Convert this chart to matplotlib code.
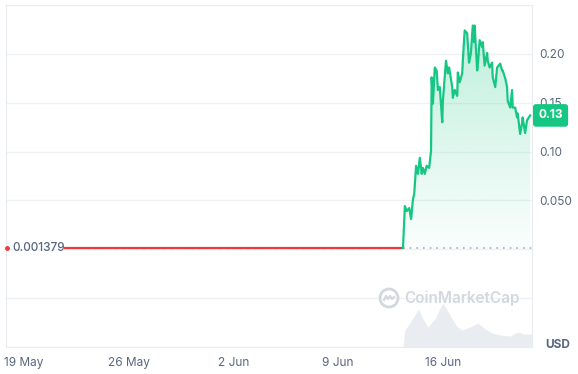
import numpy as np
import pandas as pd
import matplotlib
matplotlib.use("Agg")
import matplotlib.pyplot as plt
import matplotlib.dates as mdates
from matplotlib.transforms import blended_transform_factory
from matplotlib.patches import Polygon, Ellipse
from matplotlib.lines import Line2D

plt.rcParams['font.family'] = ['Inter', 'DejaVu Sans']

# flat pre-launch price
flat_times = ["2024-05-21 18:00", "2024-06-13 08:00"]
flat_price = [0.001379, 0.001379]
ref_price = 0.001379

# trading price after launch
times = [
    "2024-06-13 08:00", "2024-06-13 11:00", "2024-06-13 14:00", "2024-06-13 18:00",
    "2024-06-13 21:00", "2024-06-14 00:00", "2024-06-14 02:00", "2024-06-14 05:00",
    "2024-06-14 08:00", "2024-06-14 11:00", "2024-06-14 14:00", "2024-06-14 16:00",
    "2024-06-14 19:00", "2024-06-14 22:00", "2024-06-15 02:00", "2024-06-15 05:00",
    "2024-06-15 06:00", "2024-06-15 08:00", "2024-06-15 11:00", "2024-06-15 14:00",
    "2024-06-15 16:00", "2024-06-15 19:00", "2024-06-15 23:00", "2024-06-16 00:00",
    "2024-06-16 05:00", "2024-06-16 08:00", "2024-06-16 10:00", "2024-06-16 15:00",
    "2024-06-16 16:00", "2024-06-16 19:00", "2024-06-16 23:00", "2024-06-17 00:00",
    "2024-06-17 03:00", "2024-06-17 07:00", "2024-06-17 08:00", "2024-06-17 11:00",
    "2024-06-17 15:00", "2024-06-17 18:00", "2024-06-17 21:00", "2024-06-18 00:00",
    "2024-06-18 02:00", "2024-06-18 03:00", "2024-06-18 07:00", "2024-06-18 08:00",
    "2024-06-18 11:00", "2024-06-18 15:00", "2024-06-18 16:00", "2024-06-18 19:00",
    "2024-06-18 23:00", "2024-06-19 00:00", "2024-06-19 03:00", "2024-06-19 07:00",
    "2024-06-19 08:00", "2024-06-19 12:00", "2024-06-19 15:00", "2024-06-19 20:00",
    "2024-06-19 23:00", "2024-06-20 00:00", "2024-06-20 04:00", "2024-06-20 07:00",
    "2024-06-20 08:00", "2024-06-20 12:00", "2024-06-20 15:00", "2024-06-20 16:00",
    "2024-06-20 20:00", "2024-06-20 23:00", "2024-06-21 00:00", "2024-06-21 04:00",
    "2024-06-21 07:00", "2024-06-21 08:00", "2024-06-21 12:00", "2024-06-21 15:00",
    "2024-06-21 20:00",
]
price = [
    0.0014, 0.0442, 0.0391, 0.0422, 0.0309, 0.0514, 0.0566, 0.0854,
    0.0772, 0.0936, 0.0772, 0.0833, 0.0772, 0.0854, 0.0833, 0.1008,
    0.176, 0.149, 0.186, 0.183, 0.163, 0.166, 0.130, 0.152,
    0.193, 0.180, 0.186, 0.166, 0.155, 0.163, 0.157, 0.181,
    0.171, 0.180, 0.193, 0.224, 0.221, 0.191, 0.201, 0.229,
    0.212, 0.229, 0.183, 0.188, 0.214, 0.207, 0.212, 0.188,
    0.201, 0.193, 0.186, 0.191, 0.176, 0.166, 0.186, 0.190,
    0.183, 0.183, 0.175, 0.166, 0.152, 0.145, 0.163, 0.145,
    0.145, 0.135, 0.139, 0.118, 0.129, 0.135, 0.119, 0.132,
    0.137,
]

# volume (millions USD)
vol_times = [
    "2024-06-13 08:00", "2024-06-13 11:00", "2024-06-13 19:00", "2024-06-14 03:00",
    "2024-06-14 09:00", "2024-06-14 16:00", "2024-06-15 00:00", "2024-06-15 11:00",
    "2024-06-15 19:00", "2024-06-16 00:00", "2024-06-16 06:00", "2024-06-16 15:00",
    "2024-06-16 23:00", "2024-06-17 07:00", "2024-06-17 20:00", "2024-06-18 08:00",
    "2024-06-18 20:00", "2024-06-19 07:00", "2024-06-19 20:00", "2024-06-20 12:00",
    "2024-06-21 00:00", "2024-06-21 10:00", "2024-06-21 22:00",
]
volume = [0.0, 1.7, 2.4, 3.2, 3.8, 2.8, 2.0, 2.8, 3.8, 4.4, 3.8, 2.8,
          2.0, 1.7, 2.0, 2.4, 1.8, 1.4, 1.2, 1.1, 1.5, 1.3, 1.3]

tick_dates = ["2024-05-19", "2024-05-26", "2024-06-02", "2024-06-09", "2024-06-16"]
price_ticks = [0.05, 0.10, 0.15, 0.20]
price_tick_labels = ["0.050", "0.10", "0.15", "0.20"]

GREEN = "#16c784"
RED = "#ea3943"
GREY = "#58667e"
GRID = "#eff2f5"
WM = "#d3d8de"

t = mdates.date2num(pd.to_datetime(times))
ft = mdates.date2num(pd.to_datetime(flat_times))
vt = mdates.date2num(pd.to_datetime(vol_times))
xmin = mdates.date2num(pd.Timestamp("2024-05-17 19:00"))
xmax = mdates.date2num(pd.Timestamp("2024-06-21 23:00"))

fig = plt.figure(figsize=(5.78, 3.74), dpi=100)
pos = [6 / 578, 27 / 374, 526 / 578, 342 / 374]

# volume axes behind
axv = fig.add_axes(pos)
axv.fill_between(vt, volume, 0, color="#e9ecf0", lw=0)
axv.set_xlim(xmin, xmax)
axv.set_ylim(0, 34.2)
axv.axis("off")

ax = fig.add_axes(pos)
ax.patch.set_alpha(0)
ax.set_xlim(xmin, xmax)
ax.set_ylim(-0.10, 0.25)

for v in np.arange(-0.10, 0.26, 0.05):
    ax.axhline(v, color=GRID, lw=1, zorder=0)
for s in ax.spines.values():
    s.set_color("#e8ebef")

# gradient fill under the green line
ymax_fill = max(price)
grad = np.linspace(0.28, 0.02, 256).reshape(-1, 1)
rgba = np.zeros((256, 1, 4))
rgba[..., :3] = matplotlib.colors.to_rgb(GREEN)
rgba[..., 3] = grad
im = ax.imshow(rgba, extent=[t[0], t[-1], 0, ymax_fill], aspect="auto", origin="upper", zorder=1)
poly = Polygon(np.column_stack([np.r_[t[0], t, t[-1]], np.r_[0, price, 0]]), closed=True,
               fc="none", ec="none", transform=ax.transData)
ax.add_patch(poly)
im.set_clip_path(poly)

# reference price line
ax.plot([t[0], xmax], [ref_price, ref_price], color="#a6b0c3", lw=1.2, ls=(0, (1, 3)), zorder=2)
ax.plot(ft, flat_price, color="#f7b6ba", lw=1, ls=(0, (3, 2)), zorder=2)
ax.plot(ft, flat_price, color=RED, lw=1.6, zorder=3)
ax.plot(t, price, color=GREEN, lw=1.6, zorder=3)
ax.plot([xmin + 0.05], [ref_price], marker="o", ms=2.5, color=RED, clip_on=False, zorder=4)
ax.text(xmin + 0.45, ref_price, "0.001379", color=GREY, fontsize=8.5, fontweight="medium",
        ha="left", va="center", zorder=4)

ax.set_xticks(mdates.date2num(pd.to_datetime(tick_dates)))
ax.xaxis.set_major_formatter(mdates.DateFormatter("%-d %b"))
ax.yaxis.tick_right()
ax.set_yticks(price_ticks)
ax.set_yticklabels(price_tick_labels)
ax.tick_params(axis="both", length=0, colors=GREY, labelsize=8.5)
ax.tick_params(axis="y", pad=5)
ax.tick_params(axis="x", pad=7)

# last price badge
tr = blended_transform_factory(ax.transAxes, ax.transData)
ax.text(1.012, price[-1], "0.13", transform=tr, ha="left", va="center", color="white",
        fontsize=8.5, fontweight="bold", zorder=6,
        bbox=dict(boxstyle="round,pad=0.45,rounding_size=0.25", fc=GREEN, ec="none"))

fig.text(545 / 578, 1 - 345 / 374, "USD", color=GREY, fontsize=8.5, fontweight="bold",
         ha="left", va="center")

# watermark: logo ring + name
cx, cy = 389 / 578, 1 - 298 / 374
fig.add_artist(Ellipse((cx, cy), 18 / 578, 18 / 374, transform=fig.transFigure,
                       fc="none", ec=WM, lw=2))
wx = np.array([-5, -3, -1, 1, 3, 5]) / 578
wy = np.array([-2, 2, -1, 2, -1, 1]) / 374
fig.add_artist(Line2D(cx + wx, cy + wy, transform=fig.transFigure, color=WM, lw=1.6))
fig.text(404 / 578, cy, "CoinMarketCap", color=WM, fontsize=11,
         fontweight="semibold", ha="left", va="center")

fig.savefig("out.png", dpi=100)
